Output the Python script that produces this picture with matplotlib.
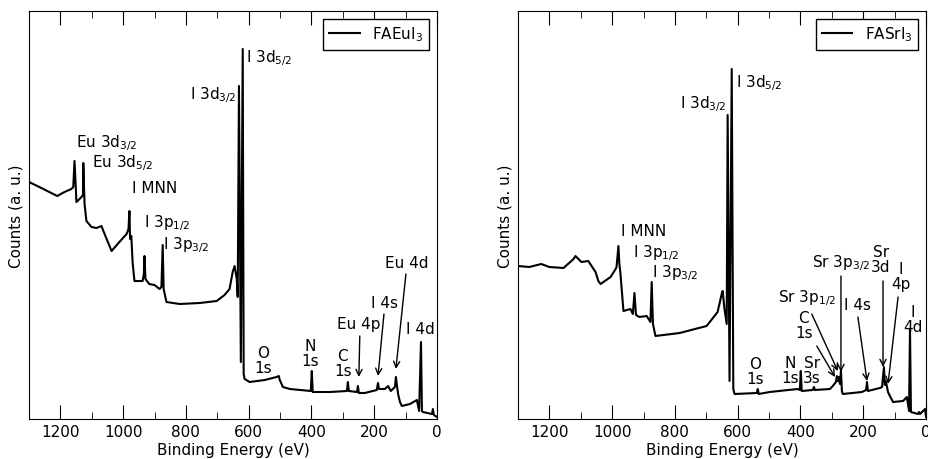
import matplotlib
matplotlib.use("Agg")
from matplotlib import pyplot as plt
from matplotlib.ticker import MultipleLocator

plt.rcParams['font.family'] = ['DejaVu Sans']
plt.rcParams['font.size'] = 11

# ---- FAEuI3 survey spectrum (binding energy in eV, counts in a. u.)
eu_energy = [1300, 1267, 1210, 1187, 1165, 1159, 1155, 1150, 1149, 1139, 1133, 1128,
             1127, 1123, 1117, 1101, 1085, 1069, 1063, 1037, 1012, 989, 983, 980,
             978, 974, 970, 964, 938, 934, 932, 929, 917, 900, 884, 878, 874, 871,
             862, 820, 756, 702, 677, 661, 651, 645, 638, 635, 631, 625, 619, 616,
             613, 597, 549, 511, 504, 501, 491, 469, 402, 399, 396, 341, 287, 284,
             281, 255, 252, 249, 230, 192, 188, 185, 166, 156, 147, 134, 131, 124,
             118, 112, 86, 64, 57, 51, 48, 45, 16, 13, 10, 0]
eu_counts = [237, 232, 223, 227, 230, 232, 258, 225, 217, 220, 222, 224,
             256, 215, 198, 192, 191, 193, 188, 168, 177, 185, 190, 208,
             180, 183, 157, 138, 138, 145, 163, 140, 135, 134, 130, 132, 174, 130,
             117, 115, 116, 118, 124, 130, 147, 153, 140, 122, 333, 57, 370, 45,
             40, 37, 39, 42, 43, 39, 32, 30, 28, 48, 27, 27, 28, 37,
             28, 27, 33, 26, 26, 29, 36, 30, 30, 33, 28, 32, 42, 25,
             17, 13, 15, 19, 8, 77, 8, 7, 5, 10, 4, 2]

# ---- FASrI3 survey spectrum
sr_energy = [1300, 1264, 1226, 1200, 1155, 1123, 1117, 1098, 1076, 1053, 1044, 1037,
             1005, 989, 986, 980, 977, 974, 964, 942, 934, 929, 924, 913, 890, 878,
             874, 870, 862, 785, 699, 664, 651, 648, 642, 635, 632, 626, 619, 614,
             610, 539, 536, 533, 498, 409, 402, 399, 396, 361, 357, 354, 306, 297,
             287, 284, 281, 278, 274, 271, 268, 265, 204, 191, 188, 185, 147, 140,
             134, 131, 128, 121, 115, 105, 73, 61, 54, 51, 48, 26, 22, 19, 3, 0]
sr_counts = [153, 152, 155, 152, 151, 160, 163, 157, 158, 147, 138, 135,
             142, 150, 152, 173, 155, 147, 108, 110, 105, 126, 104, 102, 103, 97,
             137, 95, 83, 86, 93, 107, 125, 128, 110, 95, 304, 38, 350, 30,
             25, 26, 30, 25, 27, 30, 29, 48, 28, 29, 32, 29, 30, 33,
             37, 43, 38, 42, 35, 48, 28, 25, 27, 29, 37, 28, 31, 32,
             52, 34, 38, 27, 23, 17, 18, 22, 8, 90, 7, 5, 7, 5, 10, 2]

# ---- peak labels: text, energy, height, alignment
eu_labels = ['I 3d$_{5/2}$', 'I 3d$_{3/2}$', 'Eu 3d$_{3/2}$', 'Eu 3d$_{5/2}$', 'I MNN',
             'I 3p$_{1/2}$', 'I 3p$_{3/2}$', 'O\n1s', 'N\n1s', 'C\n1s', 'Eu 4p', 'I 4s',
             'Eu 4d', 'I 4d']
eu_label_x = [610, 638, 1149, 1098, 973, 932, 874, 555, 405, 300, 249, 166, 96, 54]
eu_label_y = [362, 325, 277, 257, 232, 197, 175, 59, 66, 56, 95, 117, 157, 90]
eu_label_ha = ['left', 'right', 'left', 'left', 'left', 'left', 'left',
               'center', 'center', 'center', 'center', 'center', 'center', 'center']
# arrows: (tail energy, tail height, tip energy, tip height)
eu_arrows = [(246, 83, 249, 42), (169, 105, 188, 43), (99, 145, 131, 50)]

sr_labels = ['I 3d$_{5/2}$', 'I 3d$_{3/2}$', 'I MNN', 'I 3p$_{1/2}$', 'I 3p$_{3/2}$',
             'O\n1s', 'N\n1s', 'Sr\n3s', 'C\n1s', 'Sr 3p$_{1/2}$', 'Sr 3p$_{3/2}$',
             'I 4s', 'Sr\n3d', 'I\n4p', 'I\n4d']
sr_label_x = [606, 635, 973, 932, 874, 546, 434, 364, 389, 380, 271, 219, 144, 80, 41]
sr_label_y = [337, 316, 188, 167, 147, 48, 49, 49, 94, 122, 157, 114, 160, 143, 100]
sr_label_ha = ['left', 'right', 'left', 'left', 'left', 'center', 'center', 'center',
               'center', 'center', 'center', 'center', 'center', 'center', 'center']
sr_arrows = [(348, 73, 290, 42), (364, 105, 281, 48), (271, 143, 271, 47),
             (217, 102, 188, 38), (137, 138, 137, 52), (89, 122, 121, 35)]


def draw_panel(ax, energy, counts, name, labels, lx, ly, ha, arrows):
    ax.plot(energy, counts, color='black', lw=1.5, label=name)
    ax.set_xlim(1300, 0)
    ax.set_ylim(0, 408)
    ax.xaxis.set_major_locator(MultipleLocator(200))
    ax.xaxis.set_minor_locator(MultipleLocator(100))
    ax.tick_params(axis='x', which='major', direction='in', length=10, top=True, labelsize=11)
    ax.tick_params(axis='x', which='minor', direction='in', length=5, top=True)
    ax.set_yticks([])
    ax.set_xlabel('Binding Energy (eV)', fontsize=11, labelpad=2)
    ax.set_ylabel('Counts (a. u.)', fontsize=11)
    for t, x, y, h in zip(labels, lx, ly, ha):
        ax.text(x, y, t, ha=h, va='center', fontsize=11, linespacing=1.0)
    for x0, y0, x1, y1 in arrows:
        ax.annotate('', xy=(x1, y1), xytext=(x0, y0),
                    arrowprops=dict(arrowstyle='->', lw=1, color='black',
                                    shrinkA=0, shrinkB=0))
    leg = ax.legend(loc='upper right', fancybox=False, edgecolor='black',
                    framealpha=1, fontsize=11)
    leg.get_frame().set_linewidth(1)


fig = plt.figure(figsize=(9.29, 4.6), dpi=100)
ax1 = fig.add_axes([29 / 929, 40 / 460, 408 / 929, 408 / 460])
ax2 = fig.add_axes([518 / 929, 40 / 460, 408 / 929, 408 / 460])

draw_panel(ax1, eu_energy, eu_counts, 'FAEuI$_3$', eu_labels, eu_label_x, eu_label_y,
           eu_label_ha, eu_arrows)
draw_panel(ax2, sr_energy, sr_counts, 'FASrI$_3$', sr_labels, sr_label_x, sr_label_y,
           sr_label_ha, sr_arrows)

fig.savefig('out.png', dpi=100)
